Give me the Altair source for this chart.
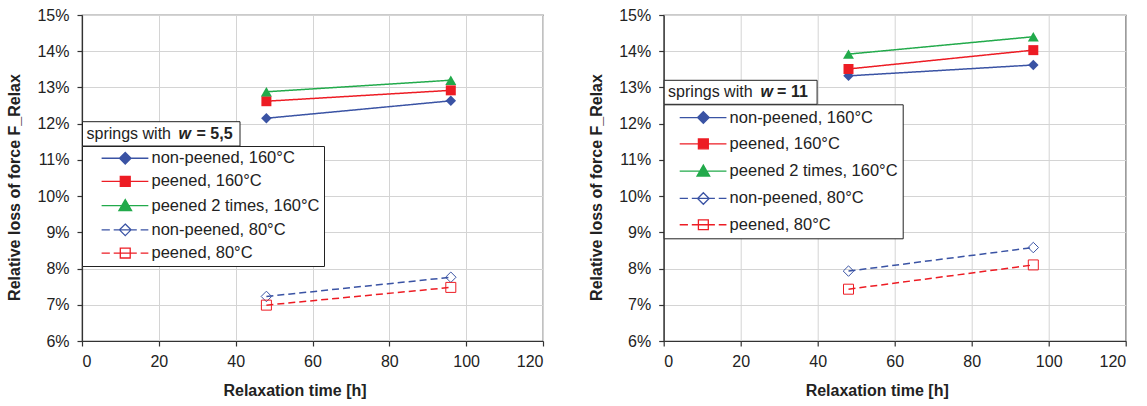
import altair as alt
import pandas as pd

# ---------------- data ----------------
time_h = [48, 96]
series_names = [
    "non-peened, 160°C",
    "peened, 160°C",
    "peened 2 times, 160°C",
    "non-peened, 80°C",
    "peened, 80°C",
]

# springs with w = 5,5  (relative loss of force, %)
w55_np160 = [12.15, 12.63]
w55_p160 = [12.62, 12.92]
w55_p2_160 = [12.88, 13.20]
w55_np80 = [7.23, 7.76]
w55_p80 = [6.99, 7.48]

# springs with w = 11
w11_np160 = [13.32, 13.62]
w11_p160 = [13.51, 14.03]
w11_p2_160 = [13.92, 14.40]
w11_np80 = [7.93, 8.58]
w11_p80 = [7.43, 8.10]

x_ticks = [0, 20, 40, 60, 80, 100, 120]
y_ticks = [6, 7, 8, 9, 10, 11, 12, 13, 14, 15]
w_labels = ["5,5", "11"]

# ---------------- style ----------------
FONT = "Liberation Sans, Arial, sans-serif"
TXT = "#222222"
BLUE, RED, GREEN = "#3a53a4", "#ed1c24", "#22aa4b"
series_colors = [BLUE, RED, GREEN, BLUE, RED]
series_fill = [BLUE, RED, GREEN, "white", "white"]
dashes = [[1, 0], [1, 0], [1, 0], [7, 4], [7, 4]]
marker_shapes = ["diamond", "square", "triangle-up", "diamond", "square"]
marker_sizes = [110, 100, 120, 110, 100]
marker_filled = [True, True, True, False, False]

DIA = "M0,-1.05L1.05,0L0,1.05L-1.05,0Z"
SQ = "M-0.9,-0.9H0.9V0.9H-0.9Z"
TRI = "M0,-1.1L1.15,0.9L-1.15,0.9Z"
SOLID = "M-4.3,0H4.2"
DASHED = "M-4.3,0H-2.8M-2.1,0H2.1M2.8,0H4.2"
legend_paths = [SOLID + DIA, SOLID + SQ, SOLID + TRI, DASHED + DIA, DASHED + SQ]


def make_panel(values, w_label, width, lg):
    df = pd.DataFrame({
        "time": time_h * len(series_names),
        "loss": [v for vals in values for v in vals],
        "series": [s for s in series_names for _ in time_h],
    })
    x = alt.X("time:Q", scale=alt.Scale(domain=[0, 120], nice=False),
              axis=alt.Axis(values=x_ticks, title="Relaxation time [h]", titleX=lg["title_x"]))
    y = alt.Y("loss:Q", scale=alt.Scale(domain=[6, 15], nice=False, zero=False),
              axis=alt.Axis(values=y_ticks, labelExpr="datum.value + '%'",
                            title="Relative loss of force F_Relax", titleY=172))
    base = alt.Chart(df)
    layers = []
    for i, s in enumerate(series_names):
        sub = base.transform_filter(alt.datum.series == s)
        layers.append(
            sub.mark_line(strokeWidth=1.5, color=series_colors[i], strokeDash=dashes[i]).encode(x=x, y=y)
        )
    for i, s in enumerate(series_names):
        sub = base.transform_filter(alt.datum.series == s)
        layers.append(
            sub.mark_point(shape=marker_shapes[i], size=marker_sizes[i], filled=marker_filled[i],
                           color=series_colors[i], strokeWidth=1, opacity=1).encode(x=x, y=y)
        )
    leg_props = dict(
        orient="none", legendX=lg["lx"], legendY=lg["ly"], title=None,
        padding=lg["pad"], strokeColor=TXT, fillColor="white",
        labelFont=FONT, labelFontSize=16.5, labelColor=TXT, labelLimit=400,
        symbolSize=121, symbolStrokeWidth=1.3, symbolOpacity=1,
        rowPadding=lg["row"], symbolOffset=lg["soff"], labelOffset=lg["loff"],
        labelExpr="datum.label + '" + " " * lg["trail"] + "'",
    )
    # legend-only layer: draws no marks itself (empty after filter), scales have explicit domains
    legend_layer = base.transform_filter("false").mark_point().encode(
        x=x, y=y,
        shape=alt.Shape("series:N", scale=alt.Scale(domain=series_names, range=legend_paths),
                        legend=alt.Legend(**leg_props)),
        fill=alt.Fill("series:N", scale=alt.Scale(domain=series_names, range=series_fill),
                      legend=alt.Legend(**leg_props)),
        stroke=alt.Stroke("series:N", scale=alt.Scale(domain=series_names, range=series_colors),
                          legend=alt.Legend(**leg_props)),
    )
    layers.append(legend_layer)

    bdf = pd.DataFrame({"w": [w_label]})
    bx = lg["box"]
    rect = alt.Chart(bdf).mark_rect(fill="white", stroke=TXT, strokeWidth=1).encode(
        x=alt.value(bx[0]), x2=alt.value(bx[1]), y=alt.value(bx[2]), y2=alt.value(bx[3]))
    tx = lg["tx"]
    ty = lg["ty"]
    t1 = alt.Chart(bdf).mark_text(align="left", baseline="middle", font=FONT, fontSize=16,
                                  color=TXT, text="springs with").encode(x=alt.value(tx[0]), y=alt.value(ty))
    t2 = alt.Chart(bdf).mark_text(align="left", baseline="middle", font=FONT, fontSize=16,
                                  fontWeight="bold", fontStyle="italic", color=TXT,
                                  text="w").encode(x=alt.value(tx[1]), y=alt.value(ty))
    t3 = alt.Chart(bdf).transform_calculate(lbl="'= ' + datum.w").mark_text(
        align="left", baseline="middle", font=FONT, fontSize=16, fontWeight="bold", color=TXT
    ).encode(x=alt.value(tx[2]), y=alt.value(ty), text="lbl:N")
    layers += [rect, t1, t2, t3]
    return alt.layer(*layers).properties(width=width, height=326)


left = make_panel([w55_np160, w55_p160, w55_p2_160, w55_np80, w55_p80], w_labels[0], 461,
                  dict(title_x=212.5, lx=0, ly=131, pad=4, row=6.2, soff=31, loff=18, trail=4,
                       box=[0.5, 158, 106.7, 131], tx=[4.5, 96.5, 114.5], ty=119.3))
right = make_panel([w11_np160, w11_p160, w11_p2_160, w11_np80, w11_p80], w_labels[1], 462,
                   dict(title_x=213, lx=0, ly=89.3, pad=5, row=9.3, soff=26.4, loff=18, trail=1,
                        box=[0.5, 153.4, 65.3, 89.3], tx=[4.4, 96.7, 113.4], ty=76.7))

chart = alt.hconcat(left, right, spacing=120.7, bounds="flush",
                    padding={"left": 6, "top": 6, "right": 2, "bottom": 4}).resolve_scale(
    shape="independent", fill="independent", stroke="independent"
).resolve_legend(
    shape="independent", fill="independent", stroke="independent"
).configure_view(
    stroke="#333333", strokeWidth=1.2
).configure_axis(
    labelFont=FONT, labelFontSize=16, labelColor=TXT,
    titleFont=FONT, titleFontSize=16, titleFontWeight="bold", titleColor=TXT,
    gridColor="#d4d4d4", gridWidth=1, domainColor="#333333", domainWidth=1.2,
    tickColor="#333333", tickSize=5, tickWidth=1.2,
).configure_axisY(labelPadding=8, titlePadding=14).configure_axisX(labelPadding=7, titlePadding=13)

chart.save("out.html", embed_options={"renderer": "svg", "actions": False})
